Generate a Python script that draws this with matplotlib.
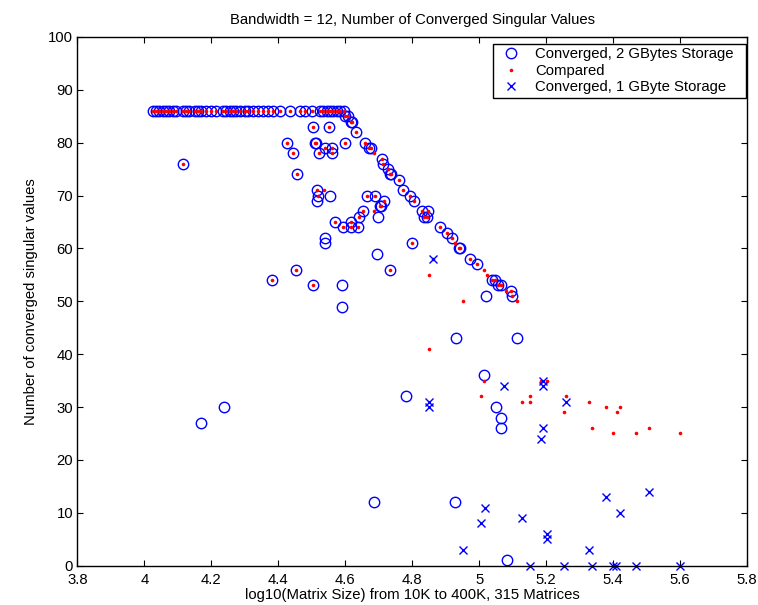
import matplotlib
matplotlib.use('Agg')
import matplotlib.pyplot as plt

plt.rcParams['font.family'] = ['Liberation Sans', 'DejaVu Sans']

# converged with 2 GBytes storage (circles)
row_x = [4.025, 4.035, 4.045, 4.055, 4.065, 4.075, 4.085, 4.095, 4.115, 4.125,
         4.135, 4.15, 4.16, 4.17, 4.185, 4.2, 4.215, 4.235, 4.245, 4.255,
         4.265, 4.275, 4.285, 4.3, 4.31, 4.325, 4.34, 4.355, 4.37, 4.385,
         4.405, 4.435, 4.465, 4.48, 4.5, 4.525, 4.535, 4.545, 4.555, 4.565,
         4.575, 4.585, 4.595]
row_y = [86] * len(row_x)

line_x = [4.599, 4.609, 4.616, 4.62, 4.632, 4.659, 4.672, 4.676, 4.709, 4.714,
          4.728, 4.733, 4.738, 4.76, 4.773, 4.795, 4.806, 4.828, 4.836, 4.843,
          4.848, 4.883, 4.905, 4.918, 4.939, 4.942, 4.972, 4.995, 5.037, 5.047,
          5.057, 5.065, 5.095, 5.098]
line_y = [85, 85, 84, 84, 82, 80, 79, 79, 77, 76,
          75, 74, 74, 73, 71, 70, 69, 67, 66, 66,
          67, 64, 63, 62, 60, 60, 58, 57, 54, 54,
          53, 53, 52, 51]

scat_x = [4.117, 4.38, 4.505, 4.551, 4.427, 4.509, 4.512, 4.599, 4.445, 4.521,
          4.54, 4.562, 4.562, 4.455, 4.515, 4.52, 4.664, 4.689, 4.716, 4.704,
          4.707, 4.654, 4.642, 4.571, 4.594, 4.616, 4.616, 4.637, 4.801, 4.452,
          4.734, 4.505]
scat_y = [76, 54, 83, 83, 80, 80, 80, 80, 78, 78,
          79, 79, 78, 74, 71, 70, 70, 70, 69, 68,
          68, 67, 66, 65, 64, 65, 64, 64, 61, 56,
          56, 53]

only_x = [4.515, 4.556, 4.697, 4.539, 4.539, 4.696, 4.591, 4.591, 5.022, 4.932,
          5.114, 5.049, 5.064, 5.064, 4.168, 4.237, 4.782, 4.686, 4.927, 5.082,
          5.014]
only_y = [69, 70, 66, 62, 61, 59, 53, 49, 51, 43,
          43, 30, 28, 26, 27, 30, 32, 12, 12, 1,
          36]

# compared (red dots) that have no circle around them
comp_x = [4.687, 4.537, 4.687, 5.014, 5.024, 4.928, 5.08, 5.114, 4.863, 4.851,
          4.952, 4.851, 5.014, 5.007, 5.184, 5.203, 5.128, 5.151, 5.151, 5.258,
          5.253, 5.328, 5.38, 5.42, 5.412, 5.337, 5.40, 5.467, 5.507, 5.599]
comp_y = [78, 71, 67, 56, 55, 61, 52, 50, 58, 55,
          50, 41, 35, 32, 35, 35, 31, 32, 31, 32,
          29, 31, 30, 30, 29, 26, 25, 25, 26, 25]

# converged with 1 GByte storage (crosses)
conv1_x = [4.863, 4.85, 4.85, 5.075, 5.191, 5.191, 5.258, 5.191, 5.184, 5.017,
           5.006, 4.952, 5.128, 5.203, 5.203, 5.151, 5.253, 5.328, 5.337, 5.40,
           5.41, 5.38, 5.42, 5.468, 5.507, 5.599]
conv1_y = [58, 31, 30, 34, 35, 34, 31, 26, 24, 11,
           8, 3, 9, 6, 5, 0, 0, 3, 0, 0,
           0, 13, 10, 0, 14, 0]

conv2_x = row_x + line_x + scat_x + only_x
conv2_y = row_y + line_y + scat_y + only_y
red_x = row_x + line_x + scat_x + comp_x
red_y = row_y + line_y + scat_y + comp_y

fs = 10.7

fig = plt.figure(figsize=(7.58, 6.05), dpi=100)
ax = fig.add_axes([0.102, 0.065, 0.8835, 0.874])

ax.plot(conv2_x, conv2_y, 'o', mfc='none', mec='blue', ms=7.5, mew=1,
        label='Converged, 2 GBytes Storage  ', clip_on=False)
ax.plot(red_x, red_y, 'o', color='red', ms=2.6, mew=0, label='Compared')
ax.plot(conv1_x, conv1_y, 'x', color='blue', ms=6, mew=1,
        label='Converged, 1 GByte Storage', clip_on=False)

ax.set_xlim(3.8, 5.8)
ax.set_ylim(0, 100)
ax.set_xticks([3.8, 4, 4.2, 4.4, 4.6, 4.8, 5, 5.2, 5.4, 5.6, 5.8])
ax.set_xticklabels(['3.8', '4', '4.2', '4.4', '4.6', '4.8', '5', '5.2', '5.4', '5.6', '5.8'])
ax.set_yticks(range(0, 101, 10))
ax.tick_params(direction='in', top=True, right=True, labelsize=fs, length=4)
ax.tick_params(axis='x', pad=5)
ax.tick_params(axis='y', pad=3)
for s in ax.spines.values():
    s.set_linewidth(1)

ax.set_title('Bandwidth = 12, Number of Converged Singular Values', fontsize=fs, pad=9)
ax.set_xlabel('log10(Matrix Size) from 10K to 400K, 315 Matrices', fontsize=fs, labelpad=1)
ax.set_ylabel('Number of converged singular values', fontsize=fs, labelpad=7)

leg = ax.legend(loc='upper right', bbox_to_anchor=(0.998, 0.987), borderaxespad=0,
                fontsize=fs, fancybox=False, edgecolor='black', framealpha=1,
                handletextpad=0.6, borderpad=0.25, labelspacing=0.15,
                handlelength=2.0, markerscale=1)
leg.get_frame().set_linewidth(1)

fig.savefig('out.png', dpi=100)
